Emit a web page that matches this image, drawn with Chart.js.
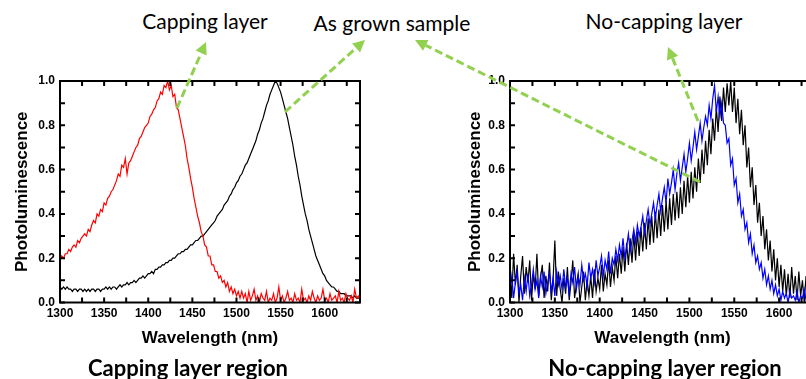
<!DOCTYPE html>
<html>
<head>
<meta charset="utf-8">
<script src="https://cdn.jsdelivr.net/npm/chart.js@4.4.0/dist/chart.umd.min.js"></script>
<style>
html, body { margin: 0; padding: 0; background: #fff; overflow: hidden; }
#page { position: relative; width: 806px; height: 379px; overflow: hidden; }
.box { position: absolute; }
.note { position: absolute; font-family: Lato, 'Noto Sans', sans-serif; color: #000; white-space: nowrap; transform: translate(-50%, -50%); }
.top { font-size: 21px; }
.bottom { font-size: 22px; font-weight: bold; }
#arrows { position: absolute; left: 0; top: 0; z-index: 2; pointer-events: none; }
</style>
</head>
<body>
<div id="page">
  <div class="box" style="left:0;top:60px;width:380px;height:300px;"><canvas id="leftChart"></canvas></div>
  <div class="box" style="left:440px;top:60px;width:400px;height:300px;"><canvas id="rightChart"></canvas></div>
  <canvas id="arrows" width="806" height="379"></canvas>
  <div class="note top" style="left:205px;top:20px;">Capping layer</div>
  <div class="note top" style="left:392px;top:22px;">As grown sample</div>
  <div class="note top" style="left:664px;top:20px;">No-capping layer</div>
  <div class="note bottom" style="left:188px;top:367px;">Capping layer region</div>
  <div class="note bottom" style="left:665px;top:367px;">No-capping layer region</div>
</div>
<script>
const wavelength = [
  1300,1302,1304,1306,1308,1310,1312,1314,1316,1318,
  1320,1322,1324,1326,1328,1330,1332,1334,1336,1338,
  1340,1342,1344,1346,1348,1350,1352,1354,1356,1358,
  1360,1362,1364,1366,1368,1370,1372,1374,1376,1378,
  1380,1382,1384,1386,1388,1390,1392,1394,1396,1398,
  1400,1402,1404,1406,1408,1410,1412,1414,1416,1418,
  1420,1422,1424,1426,1428,1430,1432,1434,1436,1438,
  1440,1442,1444,1446,1448,1450,1452,1454,1456,1458,
  1460,1462,1464,1466,1468,1470,1472,1474,1476,1478,
  1480,1482,1484,1486,1488,1490,1492,1494,1496,1498,
  1500,1502,1504,1506,1508,1510,1512,1514,1516,1518,
  1520,1522,1524,1526,1528,1530,1532,1534,1536,1538,
  1540,1542,1544,1546,1548,1550,1552,1554,1556,1558,
  1560,1562,1564,1566,1568,1570,1572,1574,1576,1578,
  1580,1582,1584,1586,1588,1590,1592,1594,1596,1598,
  1600,1602,1604,1606,1608,1610,1612,1614,1616,1618,
  1620,1622,1624,1626,1628,1630,1632,1634,1636,1638,
  1640
];

const xTickLabels = [1300, 1350, 1400, 1450, 1500, 1550, 1600];
const xMinorTicks = [1325, 1375, 1425, 1475, 1525, 1575, 1625];
const yTickLabels = [0, 0.2, 0.4, 0.6, 0.8, 1.0];
const yMinorTicks = [0.1, 0.3, 0.5, 0.7, 0.9];

// left panel: capping layer (red) and as grown (black)
const cappingLeft = [
  .19,.21,.20,.22,.22,.24,.23,.25,.26,.25,
  .28,.27,.29,.30,.31,.30,.33,.32,.35,.37,
  .36,.40,.39,.42,.41,.45,.44,.47,.48,.50,
  .51,.53,.55,.58,.57,.62,.61,.65,.58,.63,
  .64,.66,.68,.70,.71,.74,.75,.77,.79,.80,
  .81,.84,.85,.87,.88,.91,.92,.95,.94,.98,
  .97,1.0,.96,.98,.93,.94,.88,.87,.83,.79,
  .75,.71,.65,.61,.56,.52,.47,.43,.39,.36,
  .32,.30,.26,.25,.21,.21,.17,.17,.14,.14,
  .11,.12,.09,.10,.07,.09,.05,.07,.04,.06,
  .03,.05,.02,.05,.02,.04,.00,.05,.01,.03,
  .06,.01,.03,.00,.04,.02,.01,.05,.00,.02,
  .01,.04,.00,.02,.07,.01,.03,.00,.02,.05,
  .01,.02,.00,.04,.01,.02,.00,.06,.01,.02,
  .00,.03,.01,.05,.02,.00,.03,.01,.02,.06,
  .01,.02,.00,.04,.01,.02,.03,.00,.05,.01,
  .02,.00,.04,.02,.01,.03,.00,.06,.02,.03,
  .01
];
const grownLeft = [
  .07,.06,.07,.06,.07,.06,.06,.05,.06,.06,
  .05,.06,.06,.05,.06,.05,.06,.05,.06,.06,
  .05,.06,.06,.05,.06,.06,.07,.06,.07,.06,
  .07,.07,.06,.07,.08,.07,.08,.08,.09,.08,
  .09,.09,.10,.09,.10,.11,.11,.12,.11,.12,
  .13,.13,.14,.13,.15,.15,.16,.16,.17,.17,
  .18,.18,.19,.19,.20,.20,.21,.22,.22,.23,
  .23,.24,.24,.25,.26,.26,.27,.28,.28,.29,
  .30,.30,.31,.32,.33,.34,.35,.36,.37,.39,
  .40,.41,.42,.44,.45,.46,.48,.49,.51,.52,
  .54,.55,.57,.58,.60,.62,.63,.65,.67,.69,
  .71,.73,.76,.78,.81,.83,.86,.89,.91,.94,
  .96,.98,1.0,.99,.97,.95,.92,.89,.86,.83,
  .79,.75,.71,.66,.62,.57,.53,.48,.44,.40,
  .37,.33,.30,.27,.24,.21,.19,.17,.15,.13,
  .12,.10,.09,.08,.07,.07,.06,.05,.05,.04,
  .04,.04,.03,.03,.03,.03,.02,.03,.02,.02,
  .02
];

// right panel: no-capping layer (blue) and as grown (black)
const noCappingRight = [
  .06,.12,.02,.09,.14,.04,.08,.01,.11,.05,
  .13,.03,.08,.15,.06,.10,.02,.12,.07,.14,
  .04,.09,.13,.05,.11,.03,.14,.08,.12,.06,
  .15,.07,.11,.04,.13,.09,.16,.06,.12,.08,
  .17,.10,.13,.07,.18,.11,.15,.09,.19,.12,
  .16,.21,.12,.19,.15,.23,.13,.20,.17,.24,
  .19,.26,.21,.29,.20,.25,.31,.23,.28,.33,
  .27,.35,.30,.34,.39,.31,.37,.42,.35,.40,
  .45,.38,.44,.49,.41,.47,.52,.45,.56,.49,
  .54,.60,.51,.58,.63,.55,.61,.67,.59,.65,
  .72,.64,.70,.77,.69,.75,.81,.73,.79,.84,
  .80,.89,.83,.92,.98,.86,.93,.84,.90,.81,
  .80,.72,.74,.62,.65,.53,.56,.45,.49,.39,
  .42,.33,.36,.27,.31,.22,.26,.18,.21,.15,
  .18,.11,.15,.08,.12,.06,.10,.04,.08,.03,
  .06,.01,.05,.02,.04,.00,.05,.02,.03,.01,
  .05,.00,.03,.02,.06,.01,.04,.00,.03,.02,
  .04
];
const grownRight = [
  .14,.02,.22,.08,.17,.00,.12,.21,.04,.16,
  .09,.19,.01,.13,.06,.22,.03,.11,.17,.02,
  .12,.05,.18,.01,.10,.28,.03,.14,.06,.00,
  .11,.04,.16,.01,.09,.19,.02,.08,.13,.00,
  .07,.14,.01,.10,.03,.12,.02,.15,.05,.11,
  .06,.17,.05,.13,.08,.19,.07,.16,.10,.21,
  .11,.22,.13,.25,.14,.27,.17,.29,.18,.31,
  .19,.32,.21,.34,.23,.36,.24,.38,.26,.39,
  .27,.41,.29,.42,.30,.44,.32,.46,.33,.47,
  .35,.49,.37,.50,.38,.52,.40,.55,.43,.57,
  .45,.59,.47,.61,.50,.65,.54,.69,.58,.73,
  .62,.78,.67,.83,.73,.88,.77,.93,.82,.97,
  .86,.99,.89,1.0,.86,.97,.81,.92,.76,.87,
  .71,.80,.61,.70,.52,.61,.44,.53,.36,.45,
  .30,.39,.24,.33,.19,.28,.14,.24,.10,.20,
  .07,.17,.05,.15,.03,.13,.02,.16,.04,.12,
  .01,.14,.03,.10,.00,.12,.02,.09,.01,.11,
  .04
];

const tickFont = { family: "'Liberation Sans', Arial, sans-serif", size: 12, weight: 'bold' };
const titleFont = { family: "'Liberation Sans', Arial, sans-serif", size: 17, weight: 'bold' };

// frame and inward ticks, placed with the chart's own scales
const framePlugin = {
  id: 'frame',
  afterDraw(chart) {
    const { ctx, chartArea: a, scales: { x, y } } = chart;
    ctx.save();
    ctx.strokeStyle = '#000';
    ctx.lineWidth = 2;
    ctx.strokeRect(a.left, a.top, a.right - a.left, a.bottom - a.top);
    ctx.beginPath();
    xTickLabels.concat(xMinorTicks).forEach(v => {
      const px = x.getPixelForValue(v);
      ctx.moveTo(px, a.bottom); ctx.lineTo(px, a.bottom - 5);
      ctx.moveTo(px, a.top); ctx.lineTo(px, a.top + 5);
    });
    yTickLabels.concat(yMinorTicks).forEach(v => {
      const py = y.getPixelForValue(v);
      ctx.moveTo(a.left, py); ctx.lineTo(a.left + 5, py);
      ctx.moveTo(a.right, py); ctx.lineTo(a.right - 5, py);
    });
    ctx.stroke();
    ctx.restore();
  }
};

function series(values, color) {
  return {
    data: wavelength.map((w, i) => ({ x: w, y: values[i] })),
    borderColor: color,
    borderWidth: 1.2,
    pointRadius: 0,
    tension: 0,
    fill: false
  };
}

function makeChart(id, datasets, yWidth, titlePad, rightPad) {
  return new Chart(document.getElementById(id), {
    type: 'line',
    data: { datasets: datasets },
    plugins: [framePlugin],
    options: {
      responsive: true,
      maintainAspectRatio: false,
      animation: false,
      layout: { padding: { top: 21, right: rightPad, left: 0, bottom: 0 } },
      plugins: { legend: { display: false }, tooltip: { enabled: false } },
      scales: {
        x: {
          type: 'linear',
          min: 1300,
          max: 1640,
          grid: { display: false, drawTicks: false },
          border: { display: false },
          afterBuildTicks: (scale) => { scale.ticks = xTickLabels.map(v => ({ value: v })); },
          afterFit: (scale) => { scale.height = 57.5; },
          ticks: { color: '#000', font: tickFont, padding: 4, maxRotation: 0, autoSkip: false, callback: (v) => String(v) },
          title: { display: true, text: 'Wavelength (nm)', color: '#000', font: titleFont, padding: { top: 0, bottom: 11 } }
        },
        y: {
          min: 0,
          max: 1,
          grid: { display: false, drawTicks: false },
          border: { display: false },
          afterBuildTicks: (scale) => { scale.ticks = yTickLabels.map(v => ({ value: v })); },
          afterFit: (scale) => { scale.width = yWidth; },
          ticks: { color: '#000', font: tickFont, padding: 5, callback: (v) => Number(v).toFixed(1) },
          title: { display: true, text: 'Photoluminescence', color: '#000', font: titleFont, padding: { top: titlePad, bottom: 0 } }
        }
      }
    }
  });
}

makeChart('leftChart', [series(cappingLeft, '#ff0000'), series(grownLeft, '#000000')], 60, 12, 20);
makeChart('rightChart', [series(noCappingRight, '#0000ff'), series(grownRight, '#000000')], 70, 25, 25);

// green dashed call-out arrows: [tailX, tailY, headX, headY]
const arrowLines = [
  [177, 108, 206, 42],
  [285, 112, 365, 40],
  [700, 182, 415, 40],
  [698, 121, 668, 47]
];
const actx = document.getElementById('arrows').getContext('2d');
actx.strokeStyle = '#92d050';
actx.fillStyle = '#92d050';
actx.lineWidth = 3;
arrowLines.forEach(([x1, y1, x2, y2]) => {
  const ang = Math.atan2(y2 - y1, x2 - x1);
  const head = 12, half = 6;
  const bx = x2 - head * Math.cos(ang), by = y2 - head * Math.sin(ang);
  actx.setLineDash([8, 4]);
  actx.beginPath(); actx.moveTo(x1, y1); actx.lineTo(bx, by); actx.stroke();
  actx.setLineDash([]);
  actx.beginPath();
  actx.moveTo(x2, y2);
  actx.lineTo(bx + half * Math.sin(ang), by - half * Math.cos(ang));
  actx.lineTo(bx - half * Math.sin(ang), by + half * Math.cos(ang));
  actx.closePath();
  actx.fill();
});
</script>
</body>
</html>
